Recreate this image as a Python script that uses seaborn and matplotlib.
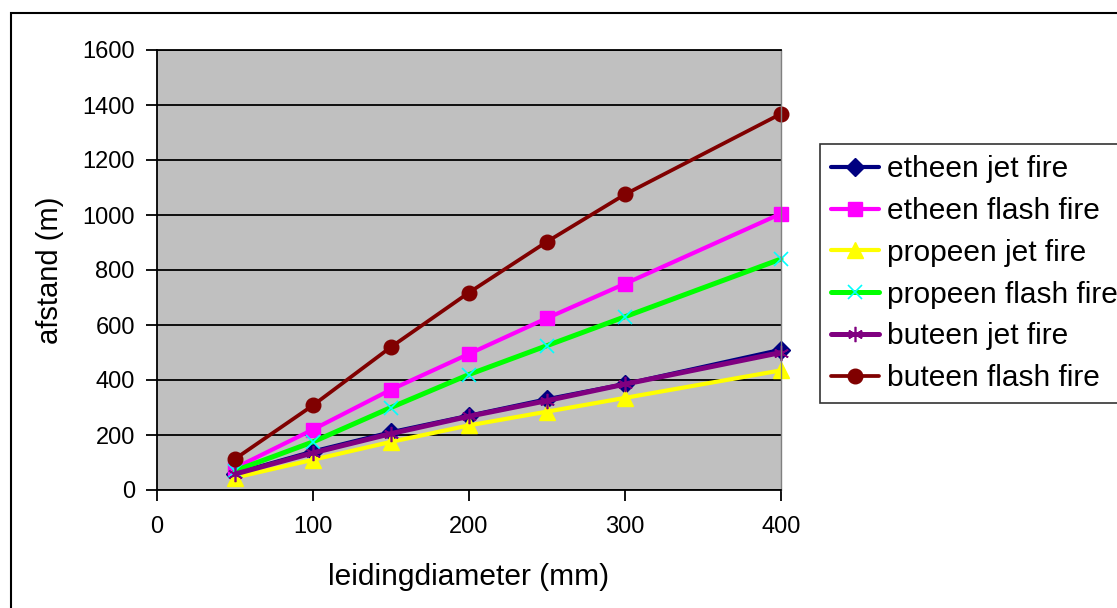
import matplotlib
matplotlib.use("Agg")
import matplotlib.pyplot as plt
import seaborn as sns
import pandas as pd
from matplotlib.lines import Line2D
from matplotlib.patches import Rectangle

diameters = [50, 100, 150, 200, 250, 300, 400]
etheen_jet = [60, 140, 210, 270, 330, 385, 510]
etheen_flash = [80, 220, 365, 495, 625, 750, 1005]
propeen_jet = [45, 110, 175, 235, 285, 335, 435]
propeen_flash = [70, 175, 300, 420, 525, 630, 840]
buteen_jet = [58, 135, 205, 268, 325, 385, 500]
buteen_flash = [113, 308, 520, 718, 903, 1075, 1368]

series_names = ["etheen jet fire", "etheen flash fire", "propeen jet fire",
                "propeen flash fire", "buteen jet fire", "buteen flash fire"]
series_values = [etheen_jet, etheen_flash, propeen_jet, propeen_flash, buteen_jet, buteen_flash]

styles = {
    "etheen jet fire": dict(color="#000080", marker="D", mfc="#000080", mec="#000080", ms=9, lw=3, mew=1),
    "etheen flash fire": dict(color="#FF00FF", marker="s", mfc="#FF00FF", mec="#FF00FF", ms=10, lw=3, mew=1),
    "propeen jet fire": dict(color="#FFFF00", marker="^", mfc="#FFFF00", mec="#FFFF00", ms=11.5, lw=3, mew=1),
    "propeen flash fire": dict(color="#00FF00", marker="x", mfc="#00FFFF", mec="#00FFFF", ms=9.5, lw=3.6, mew=1.2),
    "buteen jet fire": dict(color="#800080", marker=(6, 2, 0), mfc="#800080", mec="#800080", ms=11, lw=3.6, mew=1.2),
    "buteen flash fire": dict(color="#800000", marker="o", mfc="#800000", mec="#800000", ms=10.5, lw=2.7, mew=1),
}

sns.set_theme(style="white")
plt.rcParams["font.family"] = ["Liberation Sans", "DejaVu Sans"]
plt.rcParams["text.color"] = "black"

fig = plt.figure(figsize=(11.17, 6.08), dpi=100)
ax = fig.add_axes([157 / 1117, 1 - 490 / 608, (781 - 157) / 1117, (490 - 50) / 608])
ax.set_facecolor("#C0C0C0")

handles = []
for name, vals in zip(series_names, series_values):
    st = styles[name]
    df = pd.DataFrame({"x": diameters, "y": vals})
    sns.lineplot(data=df, x="x", y="y", ax=ax, color=st["color"], lw=st["lw"],
                 marker=st["marker"], markersize=st["ms"], markerfacecolor=st["mfc"],
                 markeredgecolor=st["mec"], markeredgewidth=st["mew"], clip_on=False)
    handles.append(Line2D([], [], color=st["color"], lw=st["lw"], marker=st["marker"],
                          markersize=st["ms"], markerfacecolor=st["mfc"],
                          markeredgecolor=st["mec"], markeredgewidth=st["mew"]))

ax.set_xlim(0, 400)
ax.set_ylim(0, 1600)
ax.set_xticks([0, 100, 200, 300, 400])
ax.set_yticks(range(0, 1601, 200))
ax.yaxis.grid(True, color="black", lw=1.3)
ax.xaxis.grid(False)
ax.set_axisbelow(True)
for s in ["left", "bottom"]:
    ax.spines[s].set_color("black")
    ax.spines[s].set_linewidth(1.3)
ax.spines["right"].set_color("#808080")
ax.spines["right"].set_linewidth(1)
ax.spines["top"].set_color("black")
ax.spines["top"].set_linewidth(1.3)
ax.tick_params(axis="both", which="major", direction="out", length=8, width=1.3,
               color="black", labelsize=17, labelcolor="black", left=True, bottom=True)
ax.tick_params(axis="x", pad=11)
ax.tick_params(axis="y", pad=8)
ax.set_xlabel("leidingdiameter (mm)", fontsize=21.5, color="black")
ax.set_ylabel("afstand (m)", fontsize=21, color="black")
ax.xaxis.set_label_coords(0.5, (490 - 577) / 440)
ax.xaxis.label.set_va("center")
ax.yaxis.set_label_coords((50 - 157) / 624, 0.5)
ax.yaxis.label.set_va("center")

leg = fig.legend(handles, series_names, loc="upper left",
                 bbox_to_anchor=(820 / 1117, 1 - 144 / 608), frameon=True, fancybox=False,
                 edgecolor="black", fontsize=21.5, handlelength=1.6, handletextpad=0.27,
                 labelspacing=0.46, borderpad=0.38, borderaxespad=0, labelcolor="black")
leg.get_frame().set_linewidth(1.2)

fig.patches.append(Rectangle((11 / 1117, -0.05), 1.2, 1 - 13 / 608 + 0.05, transform=fig.transFigure,
                             fill=False, edgecolor="black", lw=1.5))

fig.savefig("out.png", dpi=100)
